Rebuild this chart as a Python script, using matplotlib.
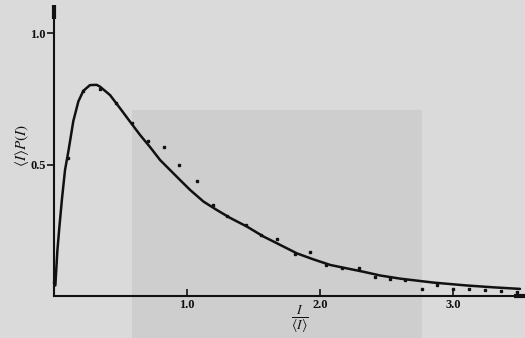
import matplotlib
matplotlib.use('Agg')
import matplotlib.pyplot as plt
from matplotlib.patches import Rectangle

plt.rcParams['mathtext.fontset'] = 'stix'

# measured points (I/<I>, <I>P(I))
data_x = [0.0, 0.108, 0.22, 0.346, 0.466, 0.584, 0.709, 0.827, 0.942, 1.073,
          1.193, 1.303, 1.44, 1.554, 1.675, 1.81, 1.92, 2.045, 2.16, 2.29,
          2.41, 2.52, 2.64, 2.765, 2.88, 3.0, 3.12, 3.24, 3.36, 3.48]
data_y = [0.053, 0.524, 0.78, 0.786, 0.733, 0.657, 0.589, 0.568, 0.498, 0.437,
          0.346, 0.304, 0.27, 0.232, 0.217, 0.159, 0.166, 0.118, 0.108, 0.105,
          0.073, 0.063, 0.059, 0.027, 0.042, 0.026, 0.026, 0.023, 0.019, 0.017]

# theoretical curve
curve_x = [0.01, 0.025, 0.04, 0.06, 0.083, 0.108, 0.145, 0.183, 0.22, 0.27,
           0.32, 0.346, 0.421, 0.496, 0.571, 0.647, 0.722, 0.797, 0.872, 0.947,
           1.023, 1.123, 1.223, 1.323, 1.449, 1.574, 1.70, 1.825, 1.95, 2.075,
           2.20, 2.326, 2.45, 2.60, 2.85, 3.10, 3.30, 3.50]
curve_y = [0.04, 0.17, 0.26, 0.37, 0.48, 0.55, 0.665, 0.74, 0.78, 0.802,
           0.803, 0.796, 0.764, 0.714, 0.663, 0.612, 0.566, 0.517, 0.479, 0.441,
           0.403, 0.359, 0.327, 0.297, 0.264, 0.226, 0.194, 0.162, 0.139, 0.118,
           0.105, 0.092, 0.078, 0.066, 0.051, 0.040, 0.033, 0.027]

x_ticks = [1.0, 2.0, 3.0]
y_ticks = [0.5, 1.0]

fig = plt.figure(figsize=(5.25, 3.38), dpi=100)
fig.patch.set_facecolor('#dadada')

# background layer: slightly darker scanned patch behind the plot
bg = fig.add_axes([0, 0, 1, 1], zorder=-1)
bg.set_xlim(0, 525)
bg.set_ylim(338, 0)
bg.axis('off')
bg.add_patch(Rectangle((132, 110), 290, 228, color='#cecece', lw=0))

ax = fig.add_axes([54 / 525, 42 / 338, 466 / 525, 284 / 338], zorder=1)
ax.patch.set_alpha(0)
ax.set_xlim(0, 3.5)
ax.set_ylim(0, 1.08)

ax.plot(curve_x, curve_y, color='#111111', lw=1.8, solid_capstyle='round',
        solid_joinstyle='round', clip_on=False)
ax.plot(data_x, data_y, 's', color='#111111', ms=2.0, clip_on=False)

for side in ['top', 'right']:
    ax.spines[side].set_visible(False)
for side in ['left', 'bottom']:
    ax.spines[side].set_linewidth(1.5)
    ax.spines[side].set_color('#111111')

# arrow heads on the axes
ax.plot([0], [1.08], marker=(2, 0, 0), ms=10, mew=3, color='#111111', clip_on=False)
ax.plot([3.5], [0], marker=(2, 0, 90), ms=8, mew=3, color='#111111', clip_on=False)

font = {'family': 'Liberation Serif', 'weight': 'bold', 'size': 9}
ax.set_xticks(x_ticks)
ax.set_xticklabels(['1.0', '2.0', '3.0'], fontdict=font)
ax.set_yticks(y_ticks)
ax.set_yticklabels(['0.5', '1.0'], fontdict=font)
ax.tick_params(axis='x', direction='in', length=5, width=1.2, pad=2, colors='#111111')
ax.tick_params(axis='y', direction='out', length=5, width=1.2, pad=1, colors='#111111')

fig.text(22 / 525, 1 - 145 / 338, r'$\langle I\rangle P(I)$', rotation=90,
         ha='center', va='center', fontsize=11, color='#111111')
fig.text(300 / 525, 1 - 320 / 338, r'$\frac{I}{\langle I\rangle}$', ha='center', va='center',
         fontsize=14, color='#111111')

fig.savefig('out.png', dpi=100, facecolor=fig.get_facecolor())
